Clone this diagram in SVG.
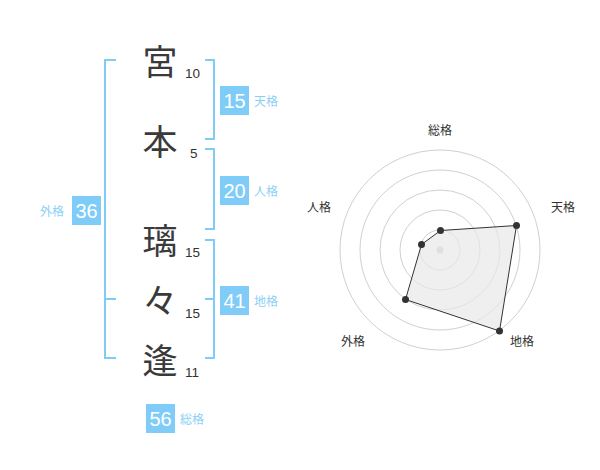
<svg xmlns="http://www.w3.org/2000/svg" width="600" height="470" viewBox="0 0 600 470">
<style>
.ch{font-family:"Noto Sans CJK JP","Noto Sans CJK SC",sans-serif;font-size:35px;fill:#3a3a3a;text-anchor:middle}
.st{font-family:"Liberation Sans",Arial,sans-serif;font-size:13.5px;fill:#333}
.bx{fill:#80ccf8}
.bn{font-family:"Liberation Sans",Arial,sans-serif;font-size:20px;fill:#fff;text-anchor:middle}
.lb{font-family:"Noto Sans CJK JP",sans-serif;font-size:12px;fill:#8ccff5}
.br{fill:none;stroke:#80ccf8;stroke-width:2}
.grid{fill:none;stroke:#d0d0d0;stroke-width:1}
.ax{font-family:"Noto Sans CJK JP",sans-serif;font-size:12px;fill:#333;text-anchor:middle}
.pt{fill:#333}
</style>
<rect width="600" height="470" fill="#fff"/>
<g id="connectors">
<path class="br" d="M116,60 H105 V358 H116 M105,299 H116"/>
<path class="br" d="M205,60 H214 V139 H205"/>
<path class="br" d="M205,149 H214 V229 H205"/>
<path class="br" d="M205,240 H214 V358 H205 M214,299 H205"/>
</g>
<g id="name">
<g id="c1"><text class="ch" x="160" y="75">宮</text><text class="st" x="185" y="78">10</text></g>
<g id="c2"><text class="ch" x="160" y="155">本</text><text class="st" x="190" y="158">5</text></g>
<g id="c3"><text class="ch" x="160" y="254">璃</text><text class="st" x="185" y="257">15</text></g>
<g id="c4"><text class="ch" x="160" y="314">々</text><text class="st" x="185" y="318">15</text></g>
<g id="c5"><text class="ch" x="160" y="374">逢</text><text class="st" x="185" y="377">11</text></g>
</g>
<g id="tenkaku"><rect class="bx" x="220" y="86" width="29" height="29"/><text class="bn" x="234.5" y="108">15</text><text class="lb" x="254" y="106">天格</text></g>
<g id="jinkaku"><rect class="bx" x="220" y="176" width="29" height="29"/><text class="bn" x="234.5" y="198">20</text><text class="lb" x="254" y="196">人格</text></g>
<g id="chikaku"><rect class="bx" x="220" y="286" width="29" height="29"/><text class="bn" x="234.5" y="308">41</text><text class="lb" x="254" y="306">地格</text></g>
<g id="gaikaku"><rect class="bx" x="72" y="196" width="29" height="29"/><text class="bn" x="86.5" y="218">36</text><text class="lb" x="40" y="216">外格</text></g>
<g id="soukaku"><rect class="bx" x="146" y="404" width="29" height="29"/><text class="bn" x="160.5" y="426">56</text><text class="lb" x="180" y="424">総格</text></g>
<g id="radar">
<circle class="grid" cx="440" cy="250" r="20"/>
<circle class="grid" cx="440" cy="250" r="40"/>
<circle class="grid" cx="440" cy="250" r="60"/>
<circle class="grid" cx="440" cy="250" r="80"/>
<circle class="grid" cx="440" cy="250" r="100"/>
<circle cx="440" cy="250" r="3.5" fill="#c8c8c8"/>
<polygon points="440.5,230.5 516.5,225.5 499.5,331 405.5,299.5 421.5,244.5" fill="#e8e8e8" fill-opacity="0.7" stroke="#333" stroke-width="1"/>
<circle class="pt" cx="440.5" cy="230.5" r="3.5"/>
<circle class="pt" cx="516.5" cy="225.5" r="3.5"/>
<circle class="pt" cx="499.5" cy="331" r="3.5"/>
<circle class="pt" cx="405.5" cy="299.5" r="3.5"/>
<circle class="pt" cx="421.5" cy="244.5" r="3.5"/>
<text class="ax" x="440" y="135">総格</text>
<text class="ax" x="563" y="212">天格</text>
<text class="ax" x="522" y="346">地格</text>
<text class="ax" x="353" y="346">外格</text>
<text class="ax" x="319" y="212">人格</text>
</g>
</svg>
